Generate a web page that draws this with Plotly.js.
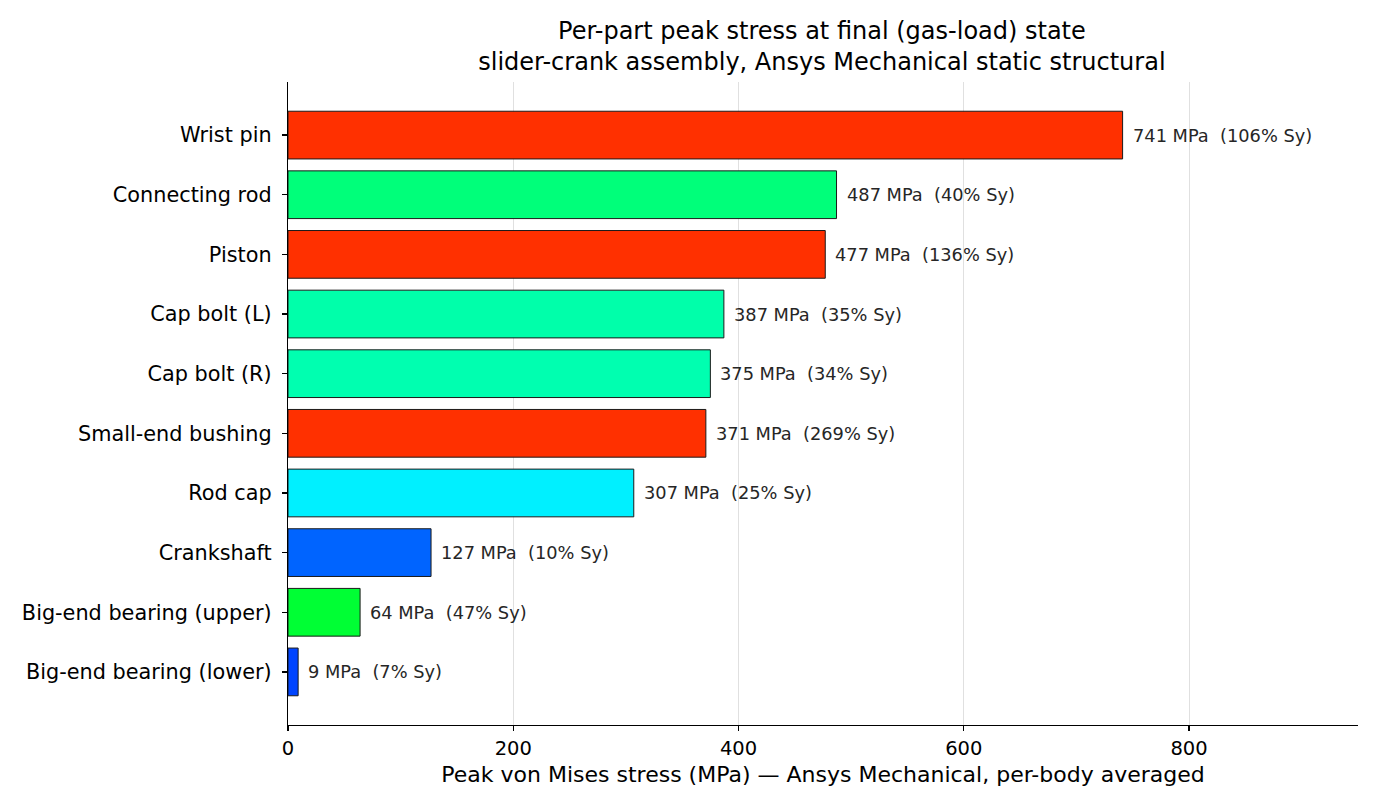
<!DOCTYPE html>
<html>
<head>
<meta charset="utf-8">
<script src="https://cdn.plot.ly/plotly-3.0.1.min.js"></script>
<style>html,body{margin:0;padding:0;background:#fff;}#chart{width:1380px;height:810px;}</style>
</head>
<body>
<div id="chart"></div>
<script>
// Ordered bottom to top
const parts = ["Big-end bearing (lower)", "Big-end bearing (upper)", "Crankshaft", "Rod cap", "Small-end bushing", "Cap bolt (R)", "Cap bolt (L)", "Piston", "Connecting rod", "Wrist pin"];
const stressMPa = [9, 64, 127, 307, 371, 375, 387, 477, 487, 741];
const pctSy = [7, 47, 10, 25, 269, 34, 35, 136, 40, 106];
const barColors = ["#0044ff", "#00ff34", "#0064ff", "#00f0ff", "#ff3000", "#00ffb0", "#00ffaa", "#ff3000", "#00ff7a", "#ff3000"];
const xTicks = [0, 200, 400, 600, 800];

const FONT = "DejaVu Sans, sans-serif";

const trace = {
  type: "bar",
  orientation: "h",
  y: parts,
  x: stressMPa,
  width: 0.8,
  marker: {color: barColors, line: {color: "#1a1a1a", width: 1}},
  hoverinfo: "skip"
};

const annotations = parts.map((p, i) => ({
  x: stressMPa[i], y: p, xref: "x", yref: "y",
  text: stressMPa[i] + " MPa\u00a0\u00a0(" + pctSy[i] + "% Sy)",
  showarrow: false, xanchor: "left", yanchor: "middle", xshift: 8,
  font: {family: FONT, size: 17.8, color: "#262626"}
}));

const layout = {
  width: 1380, height: 810,
  paper_bgcolor: "#fff", plot_bgcolor: "#fff",
  margin: {l: 288, r: 22, t: 82, b: 85},
  font: {family: FONT, color: "#000"},
  title: {
    text: "Per-part peak stress at final (gas-load) state<br>slider-crank assembly, Ansys Mechanical static structural",
    font: {family: FONT, size: 24, color: "#000"},
    x: 0.5956, xanchor: "center", y: 0.952, yanchor: "top"
  },
  xaxis: {
    range: [0, 950],
    tickvals: xTicks, ticktext: xTicks.map(String),
    showgrid: true, gridcolor: "#e0e0e0", gridwidth: 1,
    zeroline: false,
    showline: true, linecolor: "#000", linewidth: 1.2,
    ticks: "outside", ticklen: 5, tickwidth: 1.2, tickcolor: "#000",
    tickfont: {family: FONT, size: 19.5, color: "#000"},
    title: {text: "Peak von Mises stress (MPa) \u2014 Ansys Mechanical, per-body averaged", font: {family: FONT, size: 22, color: "#000"}, standoff: 8},
    fixedrange: true
  },
  yaxis: {
    type: "category",
    categoryorder: "array", categoryarray: parts,
    range: [-0.89, 9.89],
    showgrid: false, zeroline: false,
    showline: true, linecolor: "#000", linewidth: 1.2,
    ticks: "outside", ticklen: 5, tickwidth: 1.2, tickcolor: "#000",
    tickfont: {family: FONT, size: 20.8, color: "#000"},
    ticklabelstandoff: 6,
    fixedrange: true
  },
  annotations: annotations,
  showlegend: false,
  bargap: 0.2
};

Plotly.newPlot("chart", [trace], layout, {displayModeBar: false, staticPlot: true});
</script>
</body>
</html>
